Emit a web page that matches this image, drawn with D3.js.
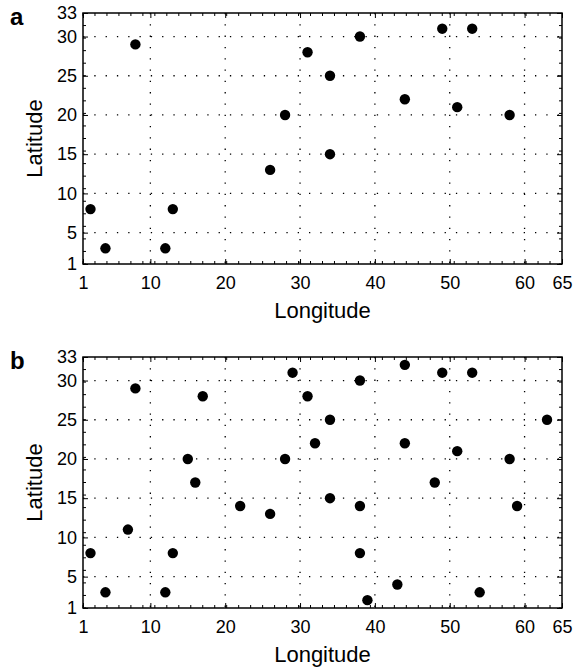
<!DOCTYPE html>
<html>
<head>
    <meta charset="utf-8">
    <script src="https://d3js.org/d3.v7.min.js"></script>
    <style>
        body { margin: 0; background: #fff; }
        text { font-family: "Liberation Sans", Arial, Helvetica, sans-serif; fill: #000; }
    </style>
</head>
<body>
    <svg id="plot" width="574" height="668"></svg>
    <script>
        // tick labels shared by both panels
        const lonTicks = [1, 10, 20, 30, 40, 50, 60, 65];
        const latTicks = [1, 5, 10, 15, 20, 25, 30, 33];

        // panel a
        const aLon = [8, 31, 38, 49, 53, 34, 28, 44, 51, 58, 34, 26, 2, 13, 4, 12];
        const aLat = [29, 28, 30, 31, 31, 25, 20, 22, 21, 20, 15, 13, 8, 8, 3, 3];

        // panel b
        const bLon = [8, 17, 29, 15, 16, 28, 38, 44, 49, 53, 31, 34, 63, 32, 44, 51,
                      58, 48, 34, 22, 26, 7, 2, 13, 4, 12, 38, 59, 38, 43, 39, 54];
        const bLat = [29, 28, 31, 20, 17, 20, 30, 32, 31, 31, 28, 25, 25, 22, 22, 21,
                      20, 17, 15, 14, 13, 11, 8, 8, 3, 3, 14, 14, 8, 4, 2, 3];

        const svg = d3.select("#plot");
        const left = 83, right = 562;

        const x = d3.scaleLinear().domain([1, 65]).range([left, right]);

        function drawPanel(letter, top, bottom, lon, lat) {
            const y = d3.scaleLinear().domain([1, 33]).range([bottom, top]);
            const g = svg.append("g");

            // dotted grid
            g.selectAll("line.vgrid").data(lonTicks.slice(1, -1))
                .join("line")
                .attr("class", "vgrid")
                .attr("x1", d => x(d)).attr("x2", d => x(d))
                .attr("y1", top).attr("y2", bottom)
                .attr("stroke", "#000").attr("stroke-width", 1.3)
                .attr("stroke-dasharray", "1.3,10");
            g.selectAll("line.hgrid").data(latTicks.slice(1, -1))
                .join("line")
                .attr("class", "hgrid")
                .attr("x1", left).attr("x2", right)
                .attr("y1", d => y(d)).attr("y2", d => y(d))
                .attr("stroke", "#000").attr("stroke-width", 1.3)
                .attr("stroke-dasharray", "1.3,10");

            // minor ticks, inward on all four sides
            const minX = d3.range(1, 65, 1.6);
            const minY = d3.range(1, 33, 1.6);
            g.selectAll("line.mx").data(minX)
                .join("line").attr("class", "mx")
                .attr("x1", d => x(d)).attr("x2", d => x(d))
                .attr("y1", bottom).attr("y2", bottom - 3)
                .attr("stroke", "#000");
            g.selectAll("line.mxt").data(minX)
                .join("line").attr("class", "mxt")
                .attr("x1", d => x(d)).attr("x2", d => x(d))
                .attr("y1", top).attr("y2", top + 3)
                .attr("stroke", "#000");
            g.selectAll("line.my").data(minY)
                .join("line").attr("class", "my")
                .attr("x1", left).attr("x2", left + 3)
                .attr("y1", d => y(d)).attr("y2", d => y(d))
                .attr("stroke", "#000");
            g.selectAll("line.myr").data(minY)
                .join("line").attr("class", "myr")
                .attr("x1", right).attr("x2", right - 3)
                .attr("y1", d => y(d)).attr("y2", d => y(d))
                .attr("stroke", "#000");

            // axes with inward major ticks
            g.append("g")
                .attr("transform", "translate(0," + bottom + ")")
                .call(d3.axisBottom(x).tickValues(lonTicks).tickSizeInner(-5).tickSizeOuter(0).tickPadding(12))
                .call(a => a.select(".domain").remove())
                .call(a => a.selectAll("text").attr("font-size", 18).attr("font-family", null));
            g.append("g")
                .attr("transform", "translate(" + left + ",0)")
                .call(d3.axisLeft(y).tickValues(latTicks).tickSizeInner(-5).tickSizeOuter(0).tickPadding(6))
                .call(a => a.select(".domain").remove())
                .call(a => a.selectAll("text").attr("font-size", 18).attr("font-family", null));
            g.append("g")
                .attr("transform", "translate(0," + top + ")")
                .call(d3.axisTop(x).tickValues(lonTicks).tickSizeInner(-5).tickSizeOuter(0).tickFormat(""))
                .call(a => a.select(".domain").remove());
            g.append("g")
                .attr("transform", "translate(" + right + ",0)")
                .call(d3.axisRight(y).tickValues(latTicks).tickSizeInner(-5).tickSizeOuter(0).tickFormat(""))
                .call(a => a.select(".domain").remove());

            // frame
            g.append("rect")
                .attr("x", left).attr("y", top)
                .attr("width", right - left).attr("height", bottom - top)
                .attr("fill", "none").attr("stroke", "#000").attr("stroke-width", 1.5);

            // points
            g.selectAll("circle").data(lon.map((d, i) => [d, lat[i]]))
                .join("circle")
                .attr("cx", d => x(d[0]))
                .attr("cy", d => y(d[1]))
                .attr("r", 5.2)
                .attr("fill", "#000");

            // labels
            g.append("text")
                .attr("x", (left + right) / 2)
                .attr("y", bottom + 54)
                .attr("text-anchor", "middle")
                .attr("font-size", 22)
                .text("Longitude");
            g.append("text")
                .attr("transform", "translate(42," + (top + bottom) / 2 + ") rotate(-90)")
                .attr("text-anchor", "middle")
                .attr("font-size", 22)
                .text("Latitude");
            g.append("text")
                .attr("x", 10)
                .attr("y", top + 12)
                .attr("font-size", 24)
                .attr("font-weight", "bold")
                .text(letter);
        }

        drawPanel("a", 13, 264, aLon, aLat);
        drawPanel("b", 357, 608, bLon, bLat);
    </script>
</body>
</html>
